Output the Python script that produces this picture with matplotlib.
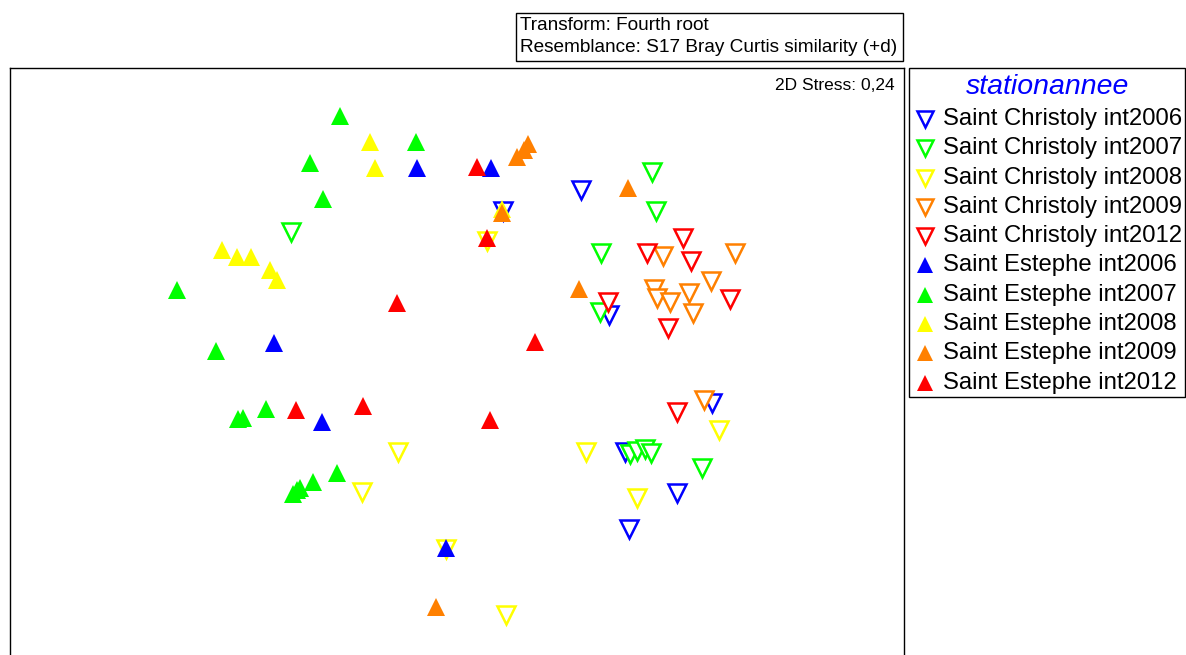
import matplotlib
matplotlib.use("Agg")
import matplotlib.pyplot as plt
from matplotlib.lines import Line2D
from matplotlib.patches import Rectangle

plt.rcParams['font.family'] = ['Liberation Sans', 'DejaVu Sans']

# nMDS coordinates per group (MDS1, MDS2)
christoly_2006_x = [0.46, 1.24, 1.52, 1.68, 2.55, 2.20, 1.72]
christoly_2006_y = [1.49, 1.70, 0.45, -0.92, -0.43, -1.33, -1.69]

christoly_2007_x = [-1.66, 1.95, 1.99, 1.44, 1.43, 1.73, 1.80, 1.88, 1.94, 2.45]
christoly_2007_y = [1.28, 1.88, 1.49, 1.07, 0.48, -0.94, -0.91, -0.89, -0.93, -1.08]

christoly_2008_x = [0.30, -0.59, -0.95, 1.29, 2.62, 1.80, -0.11, 0.49]
christoly_2008_y = [1.19, -0.92, -1.32, -0.92, -0.70, -1.38, -1.89, -2.55]

christoly_2009_x = [2.06, 1.97, 2.00, 2.13, 2.32, 2.36, 2.54, 2.78, 2.47]
christoly_2009_y = [1.04, 0.71, 0.62, 0.58, 0.67, 0.47, 0.79, 1.07, -0.40]

christoly_2012_x = [1.90, 2.26, 2.34, 2.73, 2.11, 1.51, 2.20]
christoly_2012_y = [1.07, 1.22, 0.99, 0.61, 0.32, 0.58, -0.52]

estephe_2006_x = [-0.40, 0.34, -1.83, -1.35, -0.11]
estephe_2006_y = [1.92, 1.92, 0.17, -0.62, -1.88]

estephe_2007_x = [-1.17, -0.41, -1.47, -1.34, -2.80, -2.41, -2.19, -2.14, -1.91,
                  -1.20, -1.44, -1.57, -1.60, -1.64]
estephe_2007_y = [2.44, 2.18, 1.97, 1.61, 0.70, 0.09, -0.59, -0.58, -0.49,
                  -1.13, -1.22, -1.28, -1.30, -1.34]

estephe_2008_x = [-0.87, -0.82, -2.35, -2.20, -2.06, -1.87, -1.80, 0.45]
estephe_2008_y = [2.18, 1.92, 1.10, 1.03, 1.03, 0.90, 0.80, 1.51]

estephe_2009_x = [0.71, 0.67, 0.60, 1.71, 0.45, 1.22, -0.21]
estephe_2009_y = [2.16, 2.10, 2.03, 1.72, 1.47, 0.71, -2.47]

estephe_2012_x = [0.20, 0.30, -0.60, 0.78, -1.61, -0.94, 0.33]
estephe_2012_y = [1.93, 1.22, 0.57, 0.18, -0.50, -0.46, -0.60]

labels = ["Saint Christoly int2006", "Saint Christoly int2007",
          "Saint Christoly int2008", "Saint Christoly int2009",
          "Saint Christoly int2012", "Saint Estephe int2006",
          "Saint Estephe int2007", "Saint Estephe int2008",
          "Saint Estephe int2009", "Saint Estephe int2012"]
colors = ["#0000ff", "#00ff00", "#ffff00", "#ff8000", "#ff0000"] * 2

groups = [(christoly_2006_x, christoly_2006_y), (christoly_2007_x, christoly_2007_y),
          (christoly_2008_x, christoly_2008_y), (christoly_2009_x, christoly_2009_y),
          (christoly_2012_x, christoly_2012_y), (estephe_2006_x, estephe_2006_y),
          (estephe_2007_x, estephe_2007_y), (estephe_2008_x, estephe_2008_y),
          (estephe_2009_x, estephe_2009_y), (estephe_2012_x, estephe_2012_y)]

W, H = 1186, 655
fig = plt.figure(figsize=(W / 100, H / 100), dpi=100)
ax = fig.add_axes([10 / W, 1 - 680 / H, 894 / W, 612 / H])


def marker_style(i, c, size):
    # Christoly: open down triangles, Estephe: filled up triangles
    if i < 5:
        return dict(marker='v', ms=size, mfc='white', mec=c, mew=1.8)
    return dict(marker='^', ms=size + 0.5, mfc=c, mec=c, mew=0)


for i, ((xs, ys), c) in enumerate(zip(groups, colors)):
    ax.plot(xs, ys, linestyle='none', zorder=2 + i * 0.01,
            **marker_style(i, c, 12.5))

ax.set_xlim(-4.47, 4.47)
ax.set_ylim(-3.20, 2.92)
ax.set_xticks([])
ax.set_yticks([])
for sp in ax.spines.values():
    sp.set_linewidth(1.0)
    sp.set_color('black')

fig.text(895 / W, 1 - 85 / H, "2D Stress: 0,24", ha='right', va='center',
         fontsize=12.5)

# header box with transform / resemblance info
fig.add_artist(Rectangle((516 / W, 1 - 61 / H), 387 / W, 48 / H,
                         transform=fig.transFigure, fill=False, lw=1.0,
                         ec='black'))
fig.text(520 / W, 1 - 25 / H, "Transform: Fourth root", ha='left', va='center',
         fontsize=13.7)
fig.text(520 / W, 1 - 48 / H, "Resemblance: S17 Bray Curtis similarity (+d)",
         ha='left', va='center', fontsize=13.7)

# legend panel
fig.add_artist(Rectangle((909 / W, 1 - 397 / H), 276 / W, 329 / H,
                         transform=fig.transFigure, fill=False, lw=1.0,
                         ec='black'))
fig.text(1048 / W, 1 - 87 / H, "stationannee", ha='center', va='center',
         fontsize=20.5, style='italic', color='#0000ff')
for i, (lab, c) in enumerate(zip(labels, colors)):
    yrow = 1 - (119 + i * 29.3) / H
    fig.add_artist(Line2D([925 / W], [yrow], transform=fig.transFigure,
                          linestyle='none', **marker_style(i, c, 11.5)))
    fig.text(943 / W, yrow, lab, ha='left', va='center', fontsize=17.2)

fig.savefig("out.png", dpi=100)
